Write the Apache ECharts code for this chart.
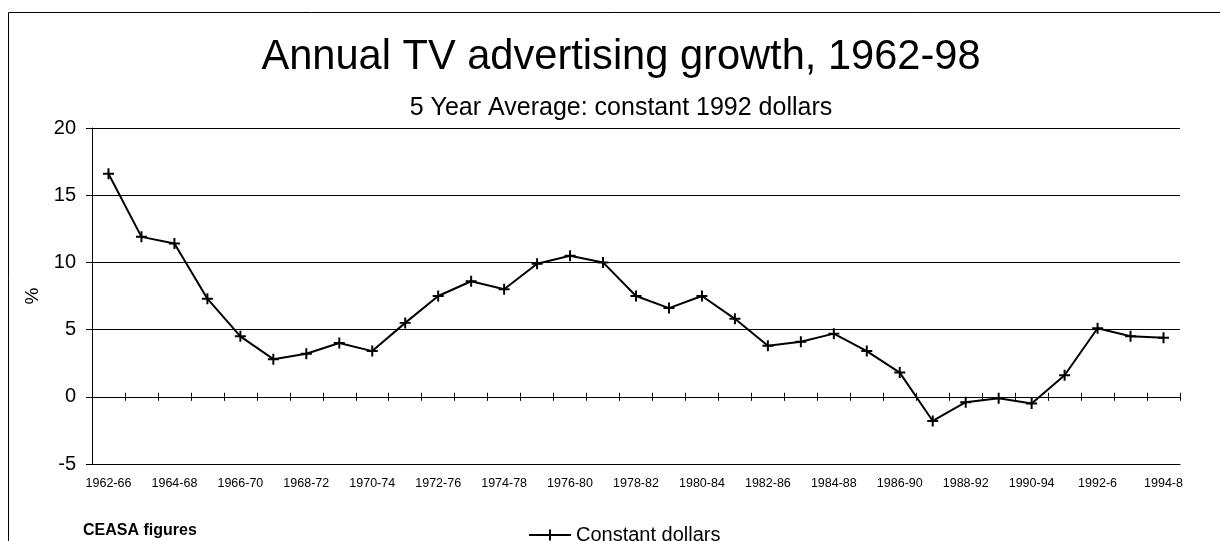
<!DOCTYPE html>
<html>
<head>
<meta charset="utf-8">
<script src="https://cdn.jsdelivr.net/npm/echarts@6/dist/echarts.min.js"></script>
<style>
html,body{margin:0;padding:0;background:#fff;}
#chart{width:1220px;height:541px;}
</style>
</head>
<body>
<div id="chart"></div>
<script>
var categories = ['1962-66','1963-67','1964-68','1965-69','1966-70','1967-71','1968-72','1969-73','1970-74','1971-75','1972-76','1973-77','1974-78','1975-79','1976-80','1977-81','1978-82','1979-83','1980-84','1981-85','1982-86','1983-87','1984-88','1985-89','1986-90','1987-91','1988-92','1989-93','1990-94','1991-95','1992-6','1993-7','1994-8'];
var constantDollars = [16.6, 11.9, 11.4, 7.3, 4.5, 2.8, 3.2, 4.0, 3.4, 5.5, 7.5, 8.6, 8.0, 9.9, 10.5, 10.0, 7.5, 6.6, 7.5, 5.8, 3.8, 4.1, 4.7, 3.4, 1.8, -1.8, -0.4, -0.1, -0.5, 1.6, 5.1, 4.5, 4.4];
var seriesName = 'Constant dollars';
var titleText = 'Annual TV advertising growth, 1962-98';
var subtitleText = '5 Year Average: constant 1992 dollars';
var sourceText = 'CEASA figures';
var yMin = -5, yMax = 20, yStep = 5;

var FONT = "'Liberation Sans', Arial, sans-serif";
var plus = 'path://M4.1,0 H5.9 V4.1 H10 V5.9 H5.9 V10 H4.1 V5.9 H0 V4.1 H4.1 Z';

var chart = echarts.init(document.getElementById('chart'), null, {renderer:'canvas'});
chart.setOption({
  animation: false,
  backgroundColor: '#fff',
  textStyle: {fontFamily: FONT, color: '#000'},
  grid: {left: 92, right: 40, top: 128, bottom: 77, containLabel: false},
  graphic: [
    {type:'rect', shape:{x:8.5, y:12.5, width:1300, height:700}, style:{fill:'none', stroke:'#000', lineWidth:1}, silent:true},
    {type:'text', x:621, y:58, style:{text:titleText, font:'41.6px ' + FONT, fill:'#000', textAlign:'center', textVerticalAlign:'middle'}},
    {type:'text', x:621, y:108, style:{text:subtitleText, font:'25px ' + FONT, fill:'#000', textAlign:'center', textVerticalAlign:'middle'}},
    {type:'text', x:83, y:531, style:{text:sourceText, font:'bold 16px ' + FONT, fill:'#000', textAlign:'left', textVerticalAlign:'middle'}}
  ],
  legend: {
    data: [seriesName],
    left: 523, top: 520,
    itemWidth: 42, itemHeight: 14, itemGap: 10,
    textStyle: {fontSize: 20, fontFamily: FONT, color: '#000'}
  },
  xAxis: [
    {
      type: 'category', data: categories, position: 'bottom', boundaryGap: true,
      axisLine: {show: true, onZero: false, lineStyle: {color: '#000', width: 1}},
      axisTick: {show: false},
      axisLabel: {interval: 1, fontSize: 12.5, color: '#000', margin: 13, fontFamily: FONT},
      splitLine: {show: false}
    },
    {
      type: 'category', data: categories, position: 'bottom', boundaryGap: true,
      axisLine: {show: true, onZero: true, onZeroAxisIndex: 0, lineStyle: {color: '#000', width: 1}},
      axisTick: {show: true, interval: 0, length: 4, inside: false, lineStyle: {color: '#000'}},
      axisLabel: {show: false},
      splitLine: {show: false}
    },
    {
      type: 'category', data: categories, position: 'top', boundaryGap: true,
      axisLine: {show: false, onZero: true, onZeroAxisIndex: 1},
      axisTick: {show: true, interval: 0, length: 4, inside: false, lineStyle: {color: '#000'}},
      axisLabel: {show: false},
      splitLine: {show: false}
    }
  ],
  yAxis: [
    {
      type: 'value', min: yMin, max: yMax, interval: yStep,
      name: '%', nameLocation: 'middle', nameRotate: 90, nameGap: 50,
      nameTextStyle: {fontSize: 19, color: '#000', fontFamily: FONT},
      axisLine: {show: true, onZero: false, lineStyle: {color: '#000', width: 1}},
      axisTick: {show: true, length: 6, inside: false, lineStyle: {color: '#000'}},
      axisLabel: {fontSize: 20, color: '#000', margin: 16, fontFamily: FONT},
      splitLine: {show: true, lineStyle: {color: '#000', width: 1}}
    },
    {
      type: 'value', min: yMin, max: yMax, interval: yStep, position: 'right',
      axisLine: {show: false, onZero: false},
      axisTick: {show: false},
      axisLabel: {show: false},
      splitLine: {show: false}
    }
  ],
  series: [{
    name: seriesName,
    type: 'line',
    xAxisIndex: 0,
    yAxisIndex: 0,
    data: constantDollars,
    symbol: plus,
    symbolSize: 11,
    showAllSymbol: true,
    lineStyle: {color: '#000', width: 2},
    itemStyle: {color: '#000'},
    emphasis: {disabled: true}
  }]
});
</script>
</body>
</html>
